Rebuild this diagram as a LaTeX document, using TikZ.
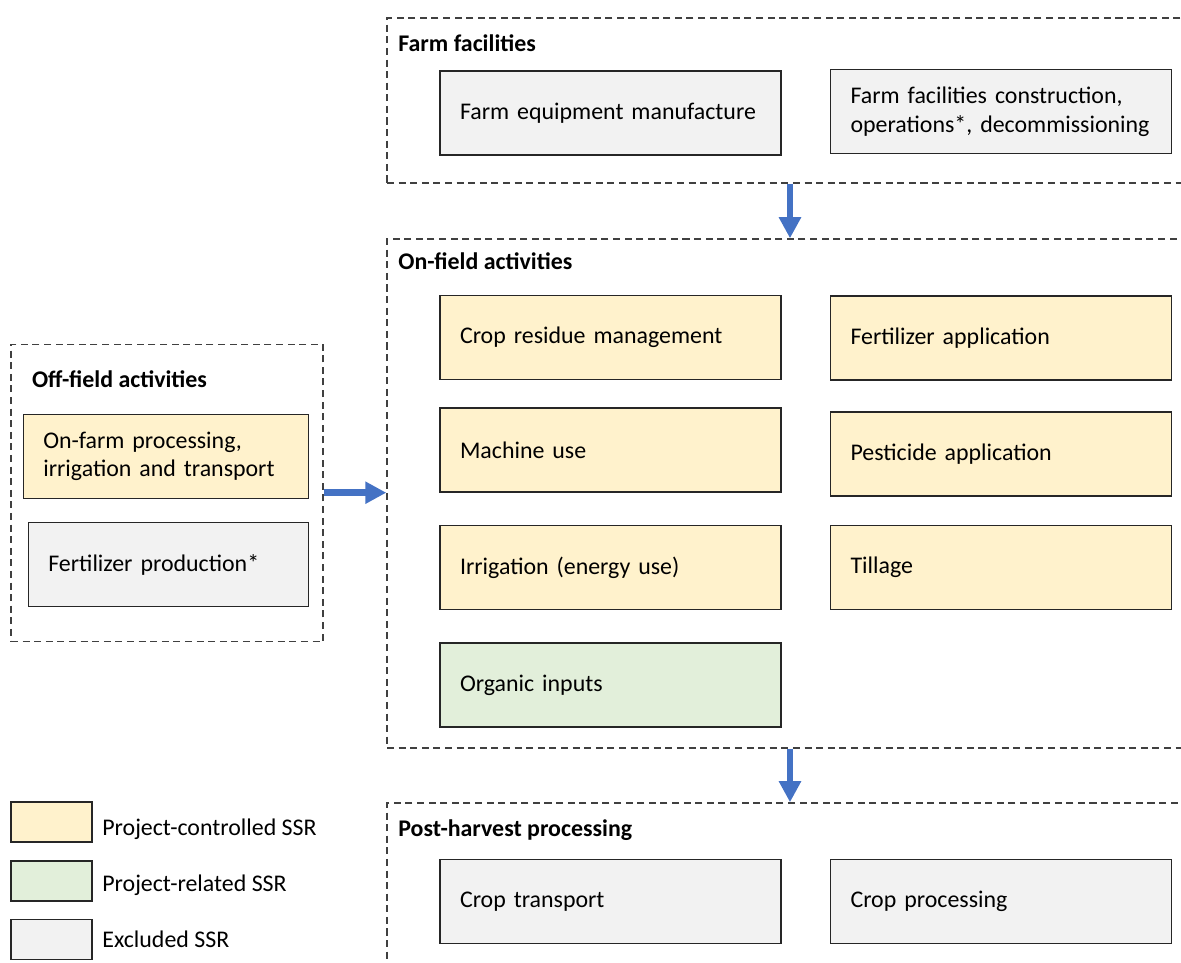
\documentclass[tikz,border=0pt]{standalone}
\usepackage{fontspec}
\setmainfont{Carlito}
\usetikzlibrary{arrows.meta}

\definecolor{ssrYellow}{HTML}{FFF2CC}
\definecolor{ssrGreen}{HTML}{E2EFDA}
\definecolor{ssrGrey}{HTML}{F2F2F2}
\definecolor{flowBlue}{HTML}{4472C4}
\definecolor{dashGrey}{HTML}{404040}

\def\boxText{6.02cm}
\def\arrowX{790}
\def\sideY{492.7}

\begin{document}
\begin{tikzpicture}[x=0.02cm, y=-0.02cm,
    every node/.style={font=\fontsize{13.6}{16.4}\selectfont},
    ssr/.style={draw=black!85, line width=0.85pt, minimum height=1.68cm,
      inner xsep=0.4cm, align=left},
    grp/.style={draw=dashGrey, line width=0.85pt, dash pattern=on 4pt off 2.6pt,
      minimum width=16.26cm, inner sep=0pt},
    grplabel/.style={anchor=base west, inner sep=0pt,
      font=\fontsize{13.6}{16.4}\selectfont\bfseries},
    legtext/.style={anchor=base west, inner sep=0pt},
    flow/.style={draw=flowBlue, line width=3.8pt, -{Triangle[width=12pt,length=12pt]}}]
      \useasboundingbox (0,0) rectangle (1181,963);
      \clip (0,0) rectangle (1181,963);

      % dashed groups
      \node[grp, minimum height=3.3cm] (farm) at (793.5,100.5) {};
      \node[grp, minimum height=10.18cm] (onfield) at (793.5,493.5) {};
      \node[grp, minimum height=3.94cm] (post) at (793.5,901.5) {};
      \node[grp, minimum width=6.24cm, minimum height=5.95cm] (offfield) at (167,493) {};

      \node[grplabel] (farmlbl) at (398,51.7) {Farm facilities};
      \node[grplabel] (onfieldlbl) at (398,269.3) {On-field activities};
      \node[grplabel] (postlbl) at (398,836.7) {Post-harvest processing};
      \node[grplabel] (offfieldlbl) at (31.7,387.3) {Off-field activities};

      % farm facilities
      \node[ssr, fill=ssrGrey, text width=\boxText] (equip) at (610.5,113) {Farm equipment manufacture};
      \node[ssr, fill=ssrGrey, text width=\boxText] (constr) at (1001,111.5)
        {Farm facilities construction,\\operations*, decommissioning};

      % on-field activities
      \node[ssr, fill=ssrYellow, text width=\boxText] (residue) at (610.5,337.6) {Crop residue management};
      \node[ssr, fill=ssrYellow, text width=\boxText] (fertapp) at (1001,338) {Fertilizer application};
      \node[ssr, fill=ssrYellow, text width=\boxText] (machine) at (610.5,450) {Machine use};
      \node[ssr, fill=ssrYellow, text width=\boxText] (pest) at (1001,454) {Pesticide application};
      \node[ssr, fill=ssrYellow, text width=\boxText] (irrig) at (610.5,567.5) {Irrigation (energy use)};
      \node[ssr, fill=ssrYellow, text width=\boxText] (tillage) at (1001,567.5) {Tillage};
      \node[ssr, fill=ssrGreen, text width=\boxText] (organic) at (610.5,685) {Organic inputs};

      % post-harvest processing
      \node[ssr, fill=ssrGrey, text width=\boxText] (transport) at (610.5,901.5) {Crop transport};
      \node[ssr, fill=ssrGrey, text width=\boxText] (cropproc) at (1001,901.5) {Crop processing};

      % off-field activities
      \node[ssr, fill=ssrYellow, text width=4.9cm] (onfarm) at (165.8,456.3)
        {On-farm processing,\\irrigation and transport};
      \node[ssr, fill=ssrGrey, text width=4.8cm] (fertprod) at (168.3,564.7) {Fertilizer production*};

      % legend
      \node[ssr, fill=ssrYellow, minimum width=1.62cm, minimum height=0.8cm, inner sep=0pt] (legctrl) at (51.5,822) {};
      \node[ssr, fill=ssrGreen, minimum width=1.62cm, minimum height=0.8cm, inner sep=0pt] (legrel) at (51.5,881) {};
      \node[ssr, fill=ssrGrey, minimum width=1.62cm, minimum height=0.8cm, inner sep=0pt] (legexcl) at (51.5,939.5) {};
      \node[legtext] (legctrltxt) at (102,835) {Project-controlled SSR};
      \node[legtext] (legreltxt) at (102,891) {Project-related SSR};
      \node[legtext] (legexcltxt) at (102,947.7) {Excluded SSR};

      % flows
      \coordinate (flowx) at (\arrowX,0);
      \coordinate (flowy) at (0,\sideY);
      \draw[flow] (farm.south -| flowx) -- (onfield.north -| flowx);
      \draw[flow] (onfield.south -| flowx) -- (post.north -| flowx);
      \draw[flow] (offfield.east |- flowy) -- (onfield.west |- flowy);
    \end{tikzpicture}
\end{document}
